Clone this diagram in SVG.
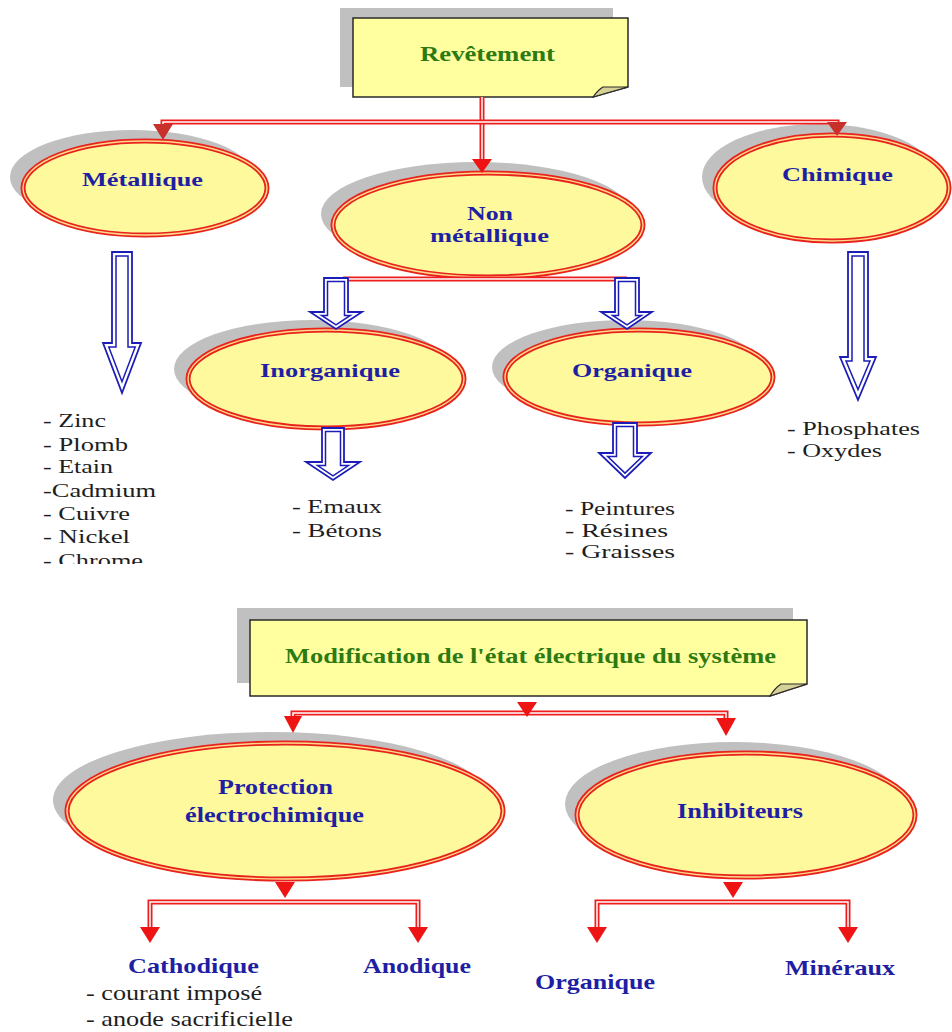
<svg xmlns="http://www.w3.org/2000/svg" width="952" height="1032" viewBox="0 0 952 1032">
<style>
.shadow{fill:#c0c0c0}
.ell{fill:#fdf99c;stroke:#e8221c;stroke-width:5}
.ellin{fill:none;stroke:#ffd88a;stroke-width:1.4}
.box{fill:#ffff9f;stroke:#2a2a2a;stroke-width:1.5}
.fold{fill:#d6d196;stroke:#2a2a2a;stroke-width:1.2}
.t{font-family:"Liberation Serif","Times New Roman",serif;font-weight:bold;fill:#1f1fa3}
.g{font-family:"Liberation Serif","Times New Roman",serif;font-weight:bold;fill:#2d7a12}
.l{font-family:"Liberation Serif","Times New Roman",serif;fill:#1e1e1e}
.ro{fill:none;stroke:#ee1e1e;stroke-width:5}
.ri{fill:none;stroke:#ffffff;stroke-width:1.5}
.ah{fill:#ee1414}
.ahd{fill:#c8302c}
.ba{fill:#ffffff;stroke:#1c1cb8;stroke-width:1.8;stroke-linejoin:miter}
.bi{fill:none;stroke:#1c1cb8;stroke-width:1.5;stroke-linejoin:miter}
</style>
<defs>
<clipPath id="clipList"><rect x="0" y="380" width="300" height="184"/></clipPath>
</defs>
<rect width="952" height="1032" fill="#ffffff"/>

<g id="revetement">
<rect class="shadow" x="340" y="8" width="273" height="79"/>
<path class="box" d="M353,18 H628 V87 Q610,92 593,97 H353 Z"/>
<path class="fold" d="M593,97 Q598,90 603,87 H628 Q610,92 593,97 Z"/>
<text class="g" x="420" y="61" font-size="20" textLength="135" lengthAdjust="spacingAndGlyphs">Revêtement</text>
</g>

<g id="metallique">
<ellipse class="shadow" cx="132" cy="177" rx="122" ry="47"/>
<ellipse class="ell" cx="145" cy="188" rx="122" ry="47"/>
<ellipse class="ellin" cx="145" cy="188" rx="122" ry="47"/>
<text class="t" x="82" y="186" font-size="19.5" textLength="121" lengthAdjust="spacingAndGlyphs">Métallique</text>
</g>

<g id="non-metallique">
<ellipse class="shadow" cx="476" cy="214" rx="155" ry="52"/>
<ellipse class="ell" cx="488" cy="225" rx="155" ry="52"/>
<ellipse class="ellin" cx="488" cy="225" rx="155" ry="52"/>
<text class="t" x="467" y="220" font-size="19.5" textLength="46" lengthAdjust="spacingAndGlyphs">Non</text>
<text class="t" x="430" y="242" font-size="19.5" textLength="119" lengthAdjust="spacingAndGlyphs">métallique</text>
</g>

<g id="chimique">
<ellipse class="shadow" cx="819" cy="177" rx="117" ry="53"/>
<ellipse class="ell" cx="832" cy="188" rx="117" ry="53"/>
<ellipse class="ellin" cx="832" cy="188" rx="117" ry="53"/>
<text class="t" x="782" y="181" font-size="19.5" textLength="111" lengthAdjust="spacingAndGlyphs">Chimique</text>
</g>

<g id="inorganique">
<ellipse class="shadow" cx="312" cy="369" rx="138" ry="49"/>
<ellipse class="ell" cx="326" cy="379" rx="138" ry="49"/>
<ellipse class="ellin" cx="326" cy="379" rx="138" ry="49"/>
<text class="t" x="260" y="377" font-size="19.5" textLength="140" lengthAdjust="spacingAndGlyphs">Inorganique</text>
</g>

<g id="organique">
<ellipse class="shadow" cx="626" cy="367" rx="134" ry="47"/>
<ellipse class="ell" cx="639" cy="377" rx="134" ry="47"/>
<ellipse class="ellin" cx="639" cy="377" rx="134" ry="47"/>
<text class="t" x="572" y="377" font-size="19.5" textLength="120" lengthAdjust="spacingAndGlyphs">Organique</text>
</g>

<g id="liste-metallique" clip-path="url(#clipList)">
<text class="l" x="43" y="427" font-size="19" textLength="63" lengthAdjust="spacingAndGlyphs">- Zinc</text>
<text class="l" x="43" y="451" font-size="19" textLength="85" lengthAdjust="spacingAndGlyphs">- Plomb</text>
<text class="l" x="43" y="473" font-size="19" textLength="70" lengthAdjust="spacingAndGlyphs">- Etain</text>
<text class="l" x="43" y="497" font-size="19" textLength="113" lengthAdjust="spacingAndGlyphs">-Cadmium</text>
<text class="l" x="43" y="520" font-size="19" textLength="87" lengthAdjust="spacingAndGlyphs">- Cuivre</text>
<text class="l" x="43" y="543" font-size="19" textLength="87" lengthAdjust="spacingAndGlyphs">- Nickel</text>
<text class="l" x="43" y="567" font-size="19" textLength="100" lengthAdjust="spacingAndGlyphs">- Chrome</text>
</g>

<g id="liste-inorganique">
<text class="l" x="292" y="513" font-size="19" textLength="90" lengthAdjust="spacingAndGlyphs">- Emaux</text>
<text class="l" x="292" y="537" font-size="19" textLength="90" lengthAdjust="spacingAndGlyphs">- Bétons</text>
</g>

<g id="liste-organique">
<text class="l" x="565" y="515" font-size="19" textLength="110" lengthAdjust="spacingAndGlyphs">- Peintures</text>
<text class="l" x="565" y="537" font-size="19" textLength="103" lengthAdjust="spacingAndGlyphs">- Résines</text>
<text class="l" x="565" y="558" font-size="19" textLength="110" lengthAdjust="spacingAndGlyphs">- Graisses</text>
</g>

<g id="liste-chimique">
<text class="l" x="787" y="435" font-size="19" textLength="133" lengthAdjust="spacingAndGlyphs">- Phosphates</text>
<text class="l" x="787" y="457" font-size="19" textLength="95" lengthAdjust="spacingAndGlyphs">- Oxydes</text>
</g>

<g id="modification">
<rect class="shadow" x="237" y="608" width="556" height="75"/>
<path class="box" d="M250,620 H807 V684 Q788,690 770,696 H250 Z"/>
<path class="fold" d="M770,696 Q775,688 781,684 H807 Q788,690 770,696 Z"/>
<text class="g" x="285" y="663" font-size="22" textLength="491" lengthAdjust="spacingAndGlyphs">Modification de l'état électrique du système</text>
</g>

<g id="protection">
<ellipse class="shadow" cx="271" cy="800" rx="218" ry="68"/>
<ellipse class="ell" cx="285" cy="811" rx="218" ry="68"/>
<ellipse class="ellin" cx="285" cy="811" rx="218" ry="68"/>
<text class="t" x="218" y="794" font-size="22" textLength="115" lengthAdjust="spacingAndGlyphs">Protection</text>
<text class="t" x="185" y="822" font-size="22" textLength="179" lengthAdjust="spacingAndGlyphs">électrochimique</text>
</g>

<g id="inhibiteurs">
<ellipse class="shadow" cx="734" cy="804" rx="169" ry="62"/>
<ellipse class="ell" cx="746" cy="815" rx="169" ry="62"/>
<ellipse class="ellin" cx="746" cy="815" rx="169" ry="62"/>
<text class="t" x="677" y="818" font-size="22" textLength="126" lengthAdjust="spacingAndGlyphs">Inhibiteurs</text>
</g>

<g id="cathodique">
<text class="t" x="128" y="973" font-size="22" textLength="131" lengthAdjust="spacingAndGlyphs">Cathodique</text>
<text class="l" x="86" y="1000" font-size="21" textLength="176" lengthAdjust="spacingAndGlyphs">- courant imposé</text>
<text class="l" x="86" y="1026" font-size="21" textLength="207" lengthAdjust="spacingAndGlyphs">- anode sacrificielle</text>
</g>

<g id="anodique">
<text class="t" x="363" y="973" font-size="22" textLength="108" lengthAdjust="spacingAndGlyphs">Anodique</text>
</g>

<g id="organique-inhib">
<text class="t" x="535" y="989" font-size="22" textLength="120" lengthAdjust="spacingAndGlyphs">Organique</text>
</g>

<g id="mineraux">
<text class="t" x="785" y="975" font-size="22" textLength="110" lengthAdjust="spacingAndGlyphs">Minéraux</text>
</g>

<g id="connectors">
<path class="ro" d="M482,97 V162"/>
<path class="ri" d="M482,97 V162"/>
<path class="ro" d="M163,128 V122 H837 V126"/>
<path class="ri" d="M163,128 V122 H837 V126"/>
<path class="ro" d="M343,279 H627"/>
<path class="ri" d="M343,279 H627"/>
<path class="ro" d="M293,720 V713 H726 V722"/>
<path class="ri" d="M293,720 V713 H726 V722"/>
<path class="ro" d="M150,932 V902 H418 V932"/>
<path class="ri" d="M150,932 V902 H418 V932"/>
<path class="ro" d="M597,932 V902 H848 V932"/>
<path class="ri" d="M597,932 V902 H848 V932"/>
<polygon class="ahd" points="153,124 173,124 163,140"/>
<polygon class="ah" points="472,159 492,159 482,173"/>
<polygon class="ahd" points="827,122 847,122 837,136"/>
<polygon class="ah" points="517,702 537,702 527,717"/>
<polygon class="ah" points="284,716 302,716 293,733"/>
<polygon class="ah" points="716,718 736,718 726,736"/>
<polygon class="ah" points="275,882 295,882 285,898"/>
<polygon class="ah" points="140,927 160,927 150,943"/>
<polygon class="ah" points="408,927 428,927 418,943"/>
<polygon class="ah" points="723,882 743,882 733,898"/>
<polygon class="ah" points="587,927 607,927 597,943"/>
<polygon class="ah" points="838,927 858,927 848,943"/>
<polygon class="ba" points="112,252 132,252 132,343 141,343 122,393 103,343 112,343"/>
<polygon class="bi" points="116,256 128,256 128,347 135.2,347 122,381.7 108.8,347 116,347"/>
<polygon class="ba" points="848,252 868,252 868,357 876,357 858,400 840,357 848,357"/>
<polygon class="bi" points="852,256 864,256 864,361 870,361 858,389.6 846,361 852,361"/>
<polygon class="ba" points="324,278 348,278 348,312 362,312 336,329 310,312 324,312"/>
<polygon class="bi" points="327.5,281.5 344.5,281.5 344.5,315.5 350.3,315.5 336,324.8 321.7,315.5 327.5,315.5"/>
<polygon class="ba" points="615,278 639,278 639,312 652,312 627,329 601,312 615,312"/>
<polygon class="bi" points="618.5,281.5 635.5,281.5 635.5,315.5 641.3,315.5 627,324.8 612.7,315.5 618.5,315.5"/>
<polygon class="ba" points="322,428 344,428 344,462 360,462 333,480 306,462 322,462"/>
<polygon class="bi" points="325.5,431.5 340.5,431.5 340.5,465.5 348.4,465.5 333,475.8 317.6,465.5 325.5,465.5"/>
<polygon class="ba" points="613,423 637,423 637,453 651,453 625,478 599,453 613,453"/>
<polygon class="bi" points="616.5,426.5 633.5,426.5 633.5,456.5 642.3,456.5 625,473.1 607.7,456.5 616.5,456.5"/>
</g>
</svg>
